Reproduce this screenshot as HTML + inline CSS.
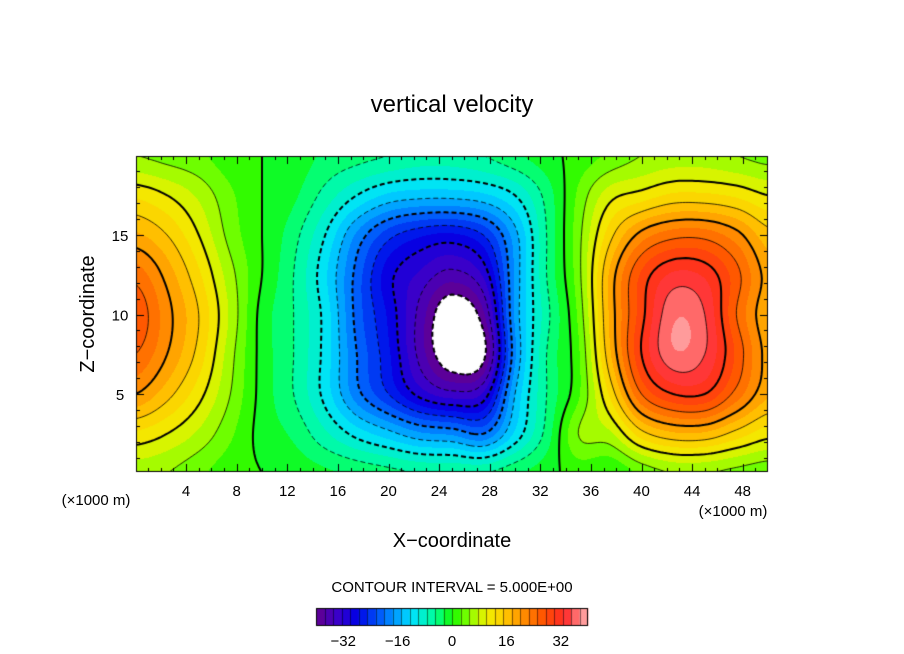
<!DOCTYPE html>
<html><head><meta charset="utf-8"><style>
body{margin:0;background:#fff;width:904px;height:654px;overflow:hidden;position:relative;font-family:"Liberation Sans",sans-serif}
canvas,svg{position:absolute;left:0;top:0}
</style></head><body>
<canvas id="c" width="904" height="654"></canvas>
<svg id="s" width="904" height="654">
<text x="452" y="112" font-size="24" text-anchor="middle">vertical velocity</text>
<text x="452" y="547" font-size="20" text-anchor="middle">X−coordinate</text>
<text transform="translate(94,314) rotate(-90)" font-size="20" text-anchor="middle">Z−coordinate</text>
<text x="96" y="505" font-size="15" text-anchor="middle">(×1000 m)</text>
<text x="733" y="516" font-size="15" text-anchor="middle">(×1000 m)</text>
<text x="452" y="592" font-size="15" text-anchor="middle">CONTOUR INTERVAL = 5.000E+00</text>
<g id="ax"></g>
</svg>
<script>
const xs=[0,2.5,5,7.5,10,12.5,15,17.5,20,22.5,25,27.5,30,32.5,35,37.5,40,42.5,45,47.5,50];
const zs=[0,2.5,5,7.5,10,12.5,15,17.5,20];
const w0=[6,5,3,1,0,-1,-2,-3,-4,-5,-5,-5,-3,-1,1,0,3,5,5,4,3];
const w25=[12,10,7,3,-1,-3,-7,-11,-14,-17,-18,-20,-12,-4,5,7,14,17,17,14,11];
const w5=[20,16,11,5,-1,-5,-11,-19,-25,-31,-34,-32,-15,-5,2,13,25,30,30,24,18];
const w75=[25,20,14,6,-1,-5,-11,-20,-27,-36,-43,-41,-18,-5,2,17,30,37,35,27,19];
const w10=[27,21,15,7,-1,-5,-11,-21,-28,-36,-43,-38,-17,-6,3,18,29,37,35,25,18];
const w125=[24,19,13,6,0,-5,-12,-21,-29,-33,-36,-32,-17,-5,4,18,28,33,32,26,19];
const w15=[18,15,10,4,0,-4,-10,-18,-24,-27,-28,-25,-16,-5,4,14,21,24,24,21,16];
const w175=[12,10,7,3,0,-2,-6,-10,-13,-14,-14,-13,-10,-4,3,9,11,13,13,12,10];
const w20=[5,4,3,1,0,-1,-3,-4,-5,-6,-6,-5,-3,-1,1,3,5,6,6,5,4];
const rows=[w0,w25,w5,w75,w10,w125,w15,w175,w20];
const xTicks=[4,8,12,16,20,24,28,32,36,40,44,48];
const zTicks=[5,10,15];
const cbTicks=[-32,-16,0,16,32];

const X=x=>135.5+x*12.65, Z=z=>473.5-z*15.9;
function cr(p0,p1,p2,p3,t){return 0.5*((2*p1)+(-p0+p2)*t+(2*p0-5*p1+4*p2-p3)*t*t+(-p0+3*p1-3*p2+p3)*t*t*t);}
function g(i,j){i=Math.max(0,Math.min(xs.length-1,i));j=Math.max(0,Math.min(zs.length-1,j));return rows[j][i];}
function field(x,z){
 const fx=x/2.5,fz=z/2.5;let i=Math.min(Math.floor(fx),xs.length-2),j=Math.min(Math.floor(fz),zs.length-2);
 const tx=fx-i,tz=fz-j,c=[];
 for(let k=-1;k<=2;k++)c.push(cr(g(i-1,j+k),g(i,j+k),g(i+1,j+k),g(i+2,j+k),tx));
 return cr(c[0],c[1],c[2],c[3],tz);
}
const stops=[[-40,[100,0,140]],[-34,[60,0,200]],[-28,[0,0,230]],[-20,[0,110,255]],[-12,[0,225,255]],[-5,[0,255,150]],[0,[20,250,0]],[5,[140,255,0]],[10,[240,240,0]],[15,[255,205,0]],[20,[255,150,0]],[27,[255,80,0]],[33,[255,40,40]],[40,[255,180,180]]];
function col(v){
 if(v<-40||v>40)return null;
 v=Math.floor(v/2.5)*2.5+1.25;
 for(let k=0;k<stops.length-1;k++){const a=stops[k],b=stops[k+1];if(v<=b[0]){const t=(v-a[0])/(b[0]-a[0]);return a[1].map((c,m)=>Math.round(c+(b[1][m]-c)*t));}}
 return stops[stops.length-1][1];
}
const cv=document.getElementById('c'),ctx=cv.getContext('2d');
const L=136,R=768,T=156,B=472;
const img=ctx.createImageData(R-L,B-T);
for(let py=T;py<B;py++)for(let px=L;px<R;px++){
 const x=(px+0.5-135.5)/12.65,z=(473.5-py-0.5)/15.9;
 const c=col(field(Math.min(50,x),Math.max(0,Math.min(20,z))));
 const o=((py-T)*(R-L)+(px-L))*4;
 if(c){img.data[o]=c[0];img.data[o+1]=c[1];img.data[o+2]=c[2];}else{img.data[o]=img.data[o+1]=img.data[o+2]=255;}
 img.data[o+3]=255;
}
ctx.putImageData(img,L,T);
// contours with chained polylines
const N=200,M=80,F=[];
for(let j=0;j<=M;j++){F.push([]);for(let i=0;i<=N;i++)F[j].push(field(i*50/N,j*20/M));}
const levels=[];for(let l=-40;l<=35;l+=5)levels.push(l);
ctx.save();ctx.beginPath();ctx.rect(L,T,R-L,B-T);ctx.clip();
levels.forEach(lv=>{
 const pos={},adj={},segs=[];
 for(let j=0;j<M;j++)for(let i=0;i<N;i++){
  const v=[F[j][i],F[j][i+1],F[j+1][i+1],F[j+1][i]];
  const p=[[i,j],[i+1,j],[i+1,j+1],[i,j+1]];
  const keys=['h'+i+','+j,'v'+(i+1)+','+j,'h'+i+','+(j+1),'v'+i+','+j];
  const ks=[];
  for(let e=0;e<4;e++){const a=v[e],b=v[(e+1)%4];if((a<lv)!==(b<lv)){const t=(lv-a)/(b-a);const pa=p[e],pb=p[(e+1)%4];pos[keys[e]]=[X((pa[0]+(pb[0]-pa[0])*t)*50/N),Z((pa[1]+(pb[1]-pa[1])*t)*20/M)];ks.push(keys[e]);}}
  for(let k=0;k+1<ks.length;k+=2){const s=segs.length;segs.push([ks[k],ks[k+1]]);(adj[ks[k]]=adj[ks[k]]||[]).push(s);(adj[ks[k+1]]=adj[ks[k+1]]||[]).push(s);}
 }
 const used=new Array(segs.length).fill(false);
 ctx.strokeStyle='#000';ctx.lineWidth=(lv%10===0)?2:0.8;
 ctx.setLineDash(lv<0?[5,3]:[]);
 function walk(start,key,out){let cur=key,s=start;while(true){used[s]=true;const nk=segs[s][0]===cur?segs[s][1]:segs[s][0];out.push(nk);const nx=(adj[nk]||[]).find(q=>!used[q]);if(nx===undefined)break;cur=nk;s=nx;}}
 for(let s=0;s<segs.length;s++){if(used[s])continue;
  const a=[];walk(s,segs[s][0],a);
  const b=[];const nx=(adj[segs[s][0]]||[]).find(q=>!used[q]);if(nx!==undefined)walk(nx,segs[s][0],b);
  const chain=b.reverse().concat([segs[s][0]]).concat(a);
  ctx.beginPath();chain.forEach((k,n)=>{const q=pos[k];n?ctx.lineTo(q[0],q[1]):ctx.moveTo(q[0],q[1]);});ctx.stroke();
 }
});
ctx.restore();ctx.setLineDash([]);
ctx.strokeStyle='#000';ctx.lineWidth=1;ctx.strokeRect(L+0.5,T+0.5,R-L-1,B-T-1);
ctx.beginPath();
for(let x=1;x<50;x++){const big=x%4===0,l=big?8:4,px=Math.round(X(x))+0.5;ctx.moveTo(px,B);ctx.lineTo(px,B-l);ctx.moveTo(px,T);ctx.lineTo(px,T+l);}
for(let z=1;z<20;z++){const big=z%5===0,l=big?8:4,py=Math.round(Z(z))+0.5;ctx.moveTo(L,py);ctx.lineTo(L+l,py);ctx.moveTo(R,py);ctx.lineTo(R-l,py);}
ctx.stroke();
// colorbar
const cbL=316,cbR=588,cbT=608,cbB=626,CB=v=>452+v*3.4;
for(let v=-40;v<40;v+=2.5){const c=col(v+0.1);ctx.fillStyle='rgb('+c.join(',')+')';ctx.fillRect(CB(v),cbT,CB(v+2.5)-CB(v)+0.5,cbB-cbT);}
ctx.beginPath();for(let v=-37.5;v<40;v+=2.5){const px=Math.round(CB(v))+0.5;ctx.moveTo(px,cbT);ctx.lineTo(px,cbB);}
ctx.lineWidth=0.5;ctx.stroke();ctx.lineWidth=1;ctx.strokeRect(cbL+0.5,cbT+0.5,cbR-cbL-1,cbB-cbT-1);
const ax=document.getElementById('ax'),NS='http://www.w3.org/2000/svg';
function txt(x,y,s,name){const t=document.createElementNS(NS,'text');t.setAttribute('x',x);t.setAttribute('y',y);t.setAttribute('font-size','15');t.setAttribute('text-anchor','middle');t.textContent=s;


ax.appendChild(t);}
xTicks.forEach(v=>txt(X(v),496,String(v),'x-tick-label'));
zTicks.forEach(v=>{txt(L-16,Z(v)+6,String(v),'y-tick-label');});
cbTicks.forEach(v=>txt(CB(v),646,String(v).replace('-','−'),'colorbar-tick-label'));
</script>
</body></html>
